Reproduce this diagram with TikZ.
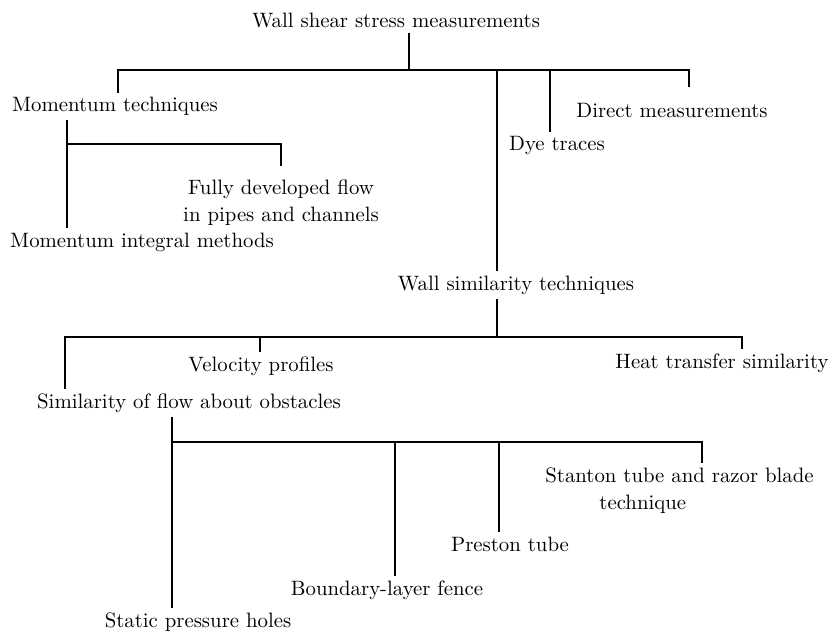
\documentclass[tikz,border=0pt]{standalone}
\usepackage{tikz}

\begin{document}
\begin{tikzpicture}[
  x=0.5pt, y=-0.5pt,
  lbl/.style={inner sep=2pt, font=\fontsize{10.4}{13.5}\selectfont, anchor=base},
  twoline/.style={lbl, anchor=north, align=center},
  tline/.style={line width=1.2pt}
]
\useasboundingbox (0,0) rectangle (830,631);

% labels
\node[lbl] (top) at (396,28) {Wall shear stress measurements};
\node[lbl] (mom) at (115,112) {Momentum techniques};
\node[lbl] (direct) at (672,118) {Direct measurements};
\node[lbl] (dye) at (557,151) {Dye traces};
\node[twoline] (fully) at (281,175) {Fully developed flow\\in pipes and channels};
\node[lbl] (integral) at (142,247) {Momentum integral methods};
\node[lbl] (wallsim) at (516,290) {Wall similarity techniques};
\node[lbl] (velo) at (261,371) {Velocity profiles};
\node[lbl] (heat) at (722,368) {Heat transfer similarity};
\node[lbl] (obst) at (189,408) {Similarity of flow about obstacles};
\node[lbl, anchor=north west, align=left] (stanton) at (541,463) {Stanton tube and razor blade\\\hspace*{2.6em}technique};
\node[lbl] (preston) at (510,551) {Preston tube};
\node[lbl] (fence) at (387,595) {Boundary-layer fence};
\node[lbl] (static) at (198,627) {Static pressure holes};

% branch points
\coordinate (j0) at (409,70);
\coordinate (jmom) at (118,70);
\coordinate (jwall) at (497,70);
\coordinate (jdye) at (550,70);
\coordinate (jdir) at (689,70);
\coordinate (jm) at (67,144);
\coordinate (jw) at (497,337);
\coordinate (jobst) at (65,337);
\coordinate (jvelo) at (260,337);
\coordinate (jheat) at (742,337);
\coordinate (jo) at (172,442);
\coordinate (jfence) at (395,442);
\coordinate (jpres) at (499,442);
\coordinate (jstan) at (702,442);

% connectors
\draw[tline] (j0 |- top.south) -- (j0);
\draw[tline, shorten >=6pt] (jmom |- mom.north) -- (jmom) -- (jdir) -- (jdir |- direct.north);
\draw[tline] (jwall) -- (jwall |- wallsim.north);
\draw[tline] (jdye) -- (jdye |- dye.north);

\draw[tline] (jm |- mom.south) -- (jm |- integral.north);
\draw[tline, shorten >=4.5pt] (jm) -| (fully.north);

\draw[tline] (jw |- wallsim.south) -- (jw);
\draw[tline] (jobst |- obst.north) -- (jobst) -- (jheat) -- (jheat |- heat.north);
\draw[tline] (jvelo) -- (jvelo |- velo.north);

\draw[tline] (jo |- obst.south) -- (jo |- static.north);
\draw[tline] (jo) -- (jstan) -- (jstan |- stanton.north);
\draw[tline] (jfence) -- (jfence |- fence.north);
\draw[tline] (jpres) -- (jpres |- preston.north);
\end{tikzpicture}
\end{document}
